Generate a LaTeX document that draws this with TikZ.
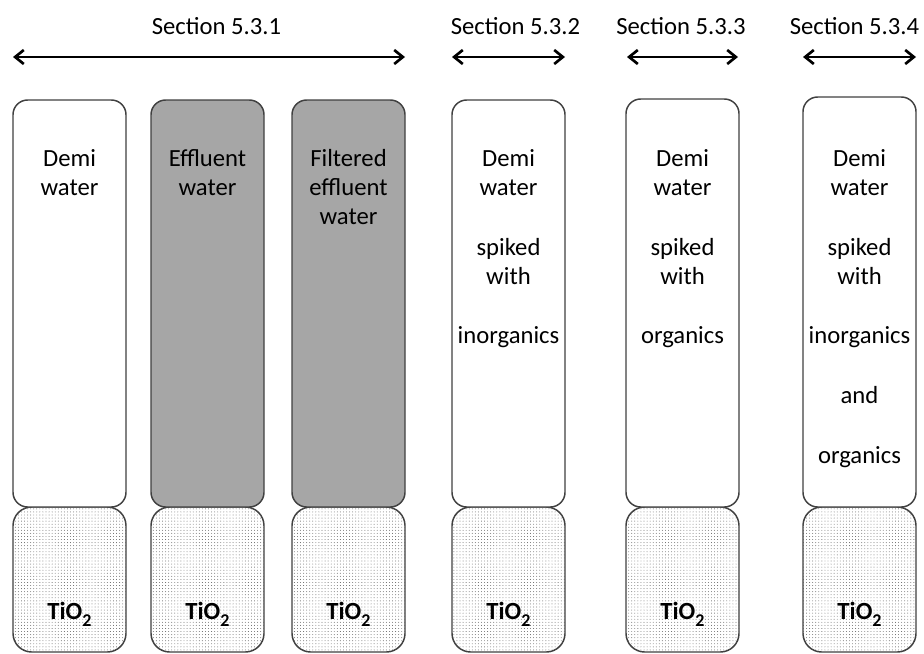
\documentclass[tikz,border=0pt]{standalone}
\usepackage{fontspec}
\setmainfont{Carlito}
\usetikzlibrary{arrows.meta,patterns.meta}
\newcommand{\lowtwo}{\raisebox{-0.65ex}{\fontsize{13.5}{13.5}\selectfont 2}}
\begin{document}
\begin{tikzpicture}[x=0.75pt,y=-0.75pt,
  outline/.style={draw=black!75, line width=1.1pt},
  clear/.style={outline, rounded corners=11pt, fill=white},
  murky/.style={outline, rounded corners=11pt, fill=black!35},
  catalyst/.style={outline, rounded corners=14pt, fill=white,
    postaction={pattern={Dots[distance=2.3pt,radius=0.33pt]}, pattern color=black!65}},
  txt/.style={font=\fontsize{18.5}{21.8}\selectfont, align=center, inner sep=0pt},
  span/.style={line width=2pt,
    {Straight Barb[length=6.5pt,width=10.5pt,line width=2pt]}-{Straight Barb[length=6.5pt,width=10.5pt,line width=2pt]}},
]
\useasboundingbox (0,0) rectangle (924,653);

% section ranges
\coordinate (a1) at (13,57);  \coordinate (b1) at (405,57);
\coordinate (a2) at (452,57); \coordinate (b2) at (565,57);
\coordinate (a3) at (627,57); \coordinate (b3) at (738,57);
\coordinate (a4) at (803,57); \coordinate (b4) at (916,57);
\draw[span] (a1) -- (b1);
\draw[span] (a2) -- (b2);
\draw[span] (a3) -- (b3);
\draw[span] (a4) -- (b4);
\node[txt, anchor=base] (s1) at (216.5,34) {Section 5.3.1};
\node[txt, anchor=base] (s2) at (515.5,34) {Section 5.3.2};
\node[txt, anchor=base] (s3) at (681,34) {Section 5.3.3};
\node[txt, anchor=base] (s4) at (854.5,34) {Section 5.3.4};

% catalyst layers
\foreach \x [count=\i] in {13,151,292,452,626,803} {
  \draw[catalyst] (\x,507) rectangle ++(113,145);
  \node[txt, anchor=base, font=\fontsize{18.5}{21.8}\selectfont\bfseries] (cat\i) at (\x+56.5,619) {TiO\lowtwo};
}

% liquid columns
\draw[clear] (13,100) rectangle (126,507);
\draw[murky] (151,100) rectangle (264,507);
\draw[murky] (292,100) rectangle (405,507);
\draw[clear] (452,100) rectangle (565,507);
\draw[clear] (626,99) rectangle (739,507);
\draw[clear] (803,97) rectangle (916,507);

\node[txt, anchor=north] (w1) at (69.5,149) {Demi\\water};
\node[txt, anchor=north] (w2) at (207.5,149) {Effluent\\water};
\node[txt, anchor=north] (w3) at (348.5,149) {Filtered\\effluent\\water};
\node[txt, anchor=north] (w4) at (508.5,149) {Demi\\water\\[23pt]spiked\\with\\[23pt]inorganics};
\node[txt, anchor=north] (w5) at (682.5,149) {Demi\\water\\[23pt]spiked\\with\\[23pt]organics};
\node[txt, anchor=north] (w6) at (859.5,149) {Demi\\water\\[23pt]spiked\\with\\[23pt]inorganics\\[23pt]and\\[23pt]organics};
\end{tikzpicture}
\end{document}
